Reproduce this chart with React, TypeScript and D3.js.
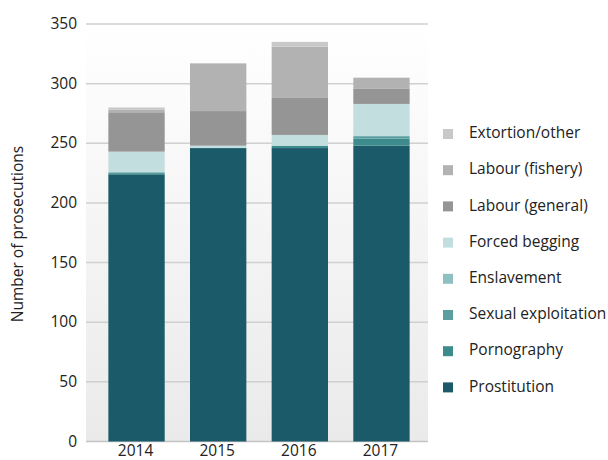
import React from "react";
import * as d3 from "d3";

const years = ["2014", "2015", "2016", "2017"];
const prostitution = [224, 246, 246, 248];
const pornography = [1, 0, 2, 6];
const sexualExploitation = [0, 0, 0, 2];
const enslavement = [1, 0, 0, 0];
const forcedBegging = [17, 2, 9, 27];
const labourGeneral = [33, 29, 31, 13];
const labourFishery = [2, 40, 43, 9];
const extortionOther = [2, 0, 4, 0];

const seriesNames = [
  "Prostitution",
  "Pornography",
  "Sexual exploitation",
  "Enslavement",
  "Forced begging",
  "Labour (general)",
  "Labour (fishery)",
  "Extortion/other",
];
const seriesValues = [
  prostitution,
  pornography,
  sexualExploitation,
  enslavement,
  forcedBegging,
  labourGeneral,
  labourFishery,
  extortionOther,
];
const seriesColors = [
  "#1b5a69",
  "#3e8b8e",
  "#5a9e9f",
  "#8fc0c1",
  "#c3dedf",
  "#959596",
  "#b2b2b3",
  "#c8c8c9",
];
const yTicks = [0, 50, 100, 150, 200, 250, 300, 350];

const FONT = "'Open Sans', sans-serif";

export default function App() {
  const W = 608;
  const H = 460;
  const plotLeft = 86;
  const plotRight = 428;
  const y = d3.scaleLinear().domain([0, 350]).range([441.5, 24]);
  const x = d3
    .scaleBand<string>()
    .domain(years)
    .range([95.7, 422.3])
    .paddingInner(0.31)
    .paddingOuter(0.155);

  const table = years.map((yr, i) => {
    const row: Record<string, number | string> = { year: yr };
    seriesNames.forEach((n, k) => (row[n] = seriesValues[k][i]));
    return row;
  });
  const stacked = d3.stack<any>().keys(seriesNames)(table as any);

  const legendOrder = [...seriesNames].reverse();

  return (
    <svg
      width={W}
      height={H}
      style={{ position: "absolute", left: 0, top: 0, background: "#fff" }}
    >
      <defs>
        <linearGradient id="bg" x1="0" y1="0" x2="0" y2="1">
          <stop offset="0%" stopColor="#ffffff" />
          <stop offset="100%" stopColor="#eaeaea" />
        </linearGradient>
      </defs>
      <rect
        x={plotLeft}
        y={y(350)}
        width={plotRight - plotLeft}
        height={y(0) - y(350)}
        fill="url(#bg)"
      />
      {yTicks.map((t) => (
        <g key={t}>
          <line
            x1={plotLeft}
            x2={plotRight}
            y1={y(t)}
            y2={y(t)}
            stroke={t === 0 ? "#c4c4c4" : "#d0d0d0"}
            strokeWidth={1.5}
          />
          <text
            x={77}
            y={y(t) + 1}
            textAnchor="end"
            dominantBaseline="middle"
            fontFamily={FONT}
            fontSize={15.5}
            fill="#222"
          >
            {t}
          </text>
        </g>
      ))}
      {stacked.map((s, k) => (
        <g key={s.key} fill={seriesColors[k]}>
          {s.map((d, i) => {
            const h = y(d[0]) - y(d[1]);
            if (h <= 0) return null;
            return (
              <rect
                key={i}
                x={x(years[i])}
                y={y(d[1])}
                width={x.bandwidth()}
                height={h}
              />
            );
          })}
        </g>
      ))}
      {years.map((yr) => (
        <text
          key={yr}
          x={(x(yr) as number) + x.bandwidth() / 2 - 1}
          y={452}
          textAnchor="middle"
          dominantBaseline="middle"
          fontFamily={FONT}
          fontSize={15.5}
          fill="#222"
        >
          {yr}
        </text>
      ))}
      <text
        transform="translate(19,234) rotate(-90)"
        textAnchor="middle"
        dominantBaseline="middle"
        fontFamily={FONT}
        fontSize={15.5}
        fill="#222"
      >
        Number of prosecutions
      </text>
      {legendOrder.map((name, i) => {
        const k = seriesNames.indexOf(name);
        const cy = 134 + i * 36.2;
        return (
          <g key={name}>
            <rect x={443} y={cy - 5} width={10} height={10} fill={seriesColors[k]} />
            <text
              x={469}
              y={cy}
              dominantBaseline="middle"
              fontFamily={FONT}
              fontSize={15.5}
              fill="#222"
            >
              {name}
            </text>
          </g>
        );
      })}
    </svg>
  );
}
